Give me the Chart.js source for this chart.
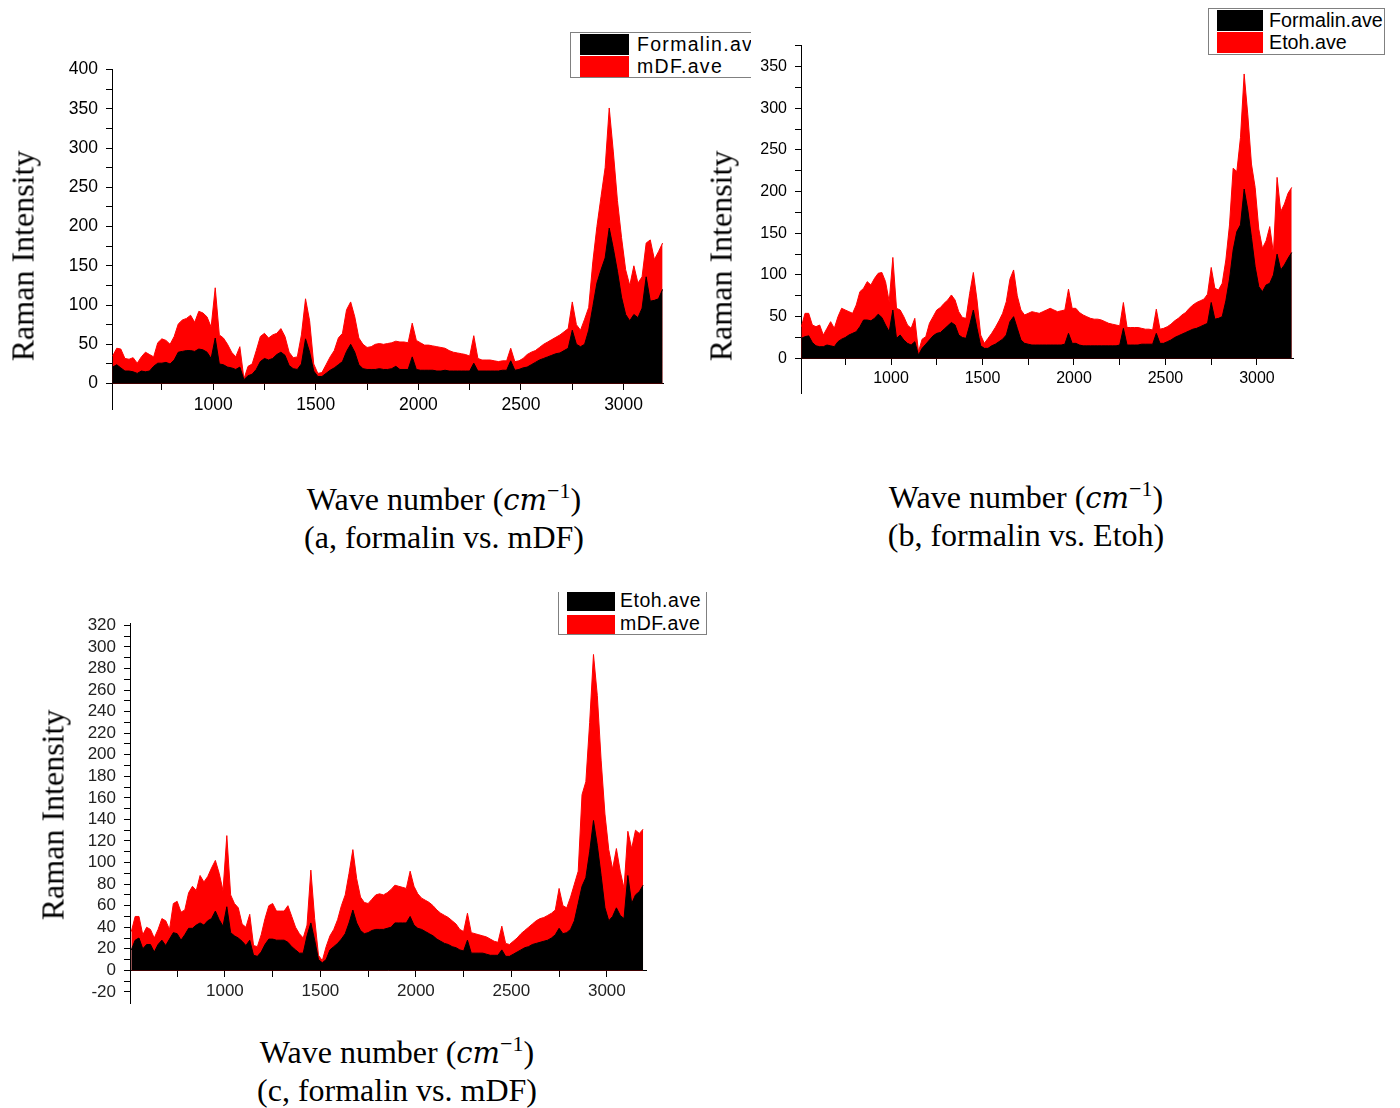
<!DOCTYPE html>
<html>
<head>
<meta charset="utf-8">
<script src="https://cdn.jsdelivr.net/npm/chart.js@4.4.1/dist/chart.umd.min.js"></script>
<style>
	body { margin: 0; background: #fff; }
	#page { position: relative; width: 1400px; height: 1108px; overflow: hidden; }
	canvas { position: absolute; }
	.ylab {
		position: absolute; white-space: nowrap;
		font: 32px 'Liberation Serif', 'Times New Roman', serif;
		transform: translate(-50%, -50%) rotate(-90deg);
	}
	.cap {
		position: absolute; white-space: nowrap; text-align: center;
		font: 32px 'Liberation Serif', 'Times New Roman', serif;
		line-height: 37px;
		transform: translate(-50%, -50%);
	}
	.cap i { font-family: 'DejaVu Serif', serif; font-size: 29px; }
	.cap sup { font-size: 22px; vertical-align: 12px; line-height: 0; }
	.legclip { position: absolute; overflow: hidden; }
	.legend { position: absolute; border: 1px solid #808080; background: #fff; }
	.legrow { position: absolute; white-space: nowrap; font-family: 'Liberation Sans', Arial, sans-serif; }
	.legrow span { position: absolute; }
</style>
</head>
<body>
<div id="page">
	<canvas id="chartA" width="633" height="377" style="left:40px; top:51px"></canvas>
	<canvas id="chartB" width="574" height="383" style="left:729px; top:28px"></canvas>
	<canvas id="chartC" width="598" height="417" style="left:58px; top:605px"></canvas>

	<div class="ylab" style="left:23px; top:256px">Raman Intensity</div>
	<div class="ylab" style="left:721px; top:256px">Raman Intensity</div>
	<div class="ylab" style="left:53px; top:815px">Raman Intensity</div>

	<div class="cap" style="left:444px; top:518px">Wave number (<i>cm</i><sup>−1</sup>)<br>(a, formalin vs. mDF)</div>
	<div class="cap" style="left:1026px; top:516px">Wave number (<i>cm</i><sup>−1</sup>)<br>(b, formalin vs. Etoh)</div>
	<div class="cap" style="left:397px; top:1071px">Wave number (<i>cm</i><sup>−1</sup>)<br>(c, formalin vs. mDF)</div>

	<div id="legA" class="legclip" style="left:570px; top:32px; width:181px; height:46px"></div>
	<div id="legB" class="legclip" style="left:1208px; top:8px; width:177px; height:47px"></div>
	<div id="legC" class="legclip" style="left:558px; top:592px; width:149px; height:43px"></div>
</div>

<script>
// wave numbers (cm-1) shared by every spectrum
const wave = [
	510, 530, 550, 570, 590, 610, 630, 650, 670, 690,
	710, 730, 750, 770, 790, 810, 830, 850, 870, 890,
	910, 930, 950, 970, 990, 1010, 1030, 1050, 1070, 1090,
	1110, 1130, 1150, 1170, 1190, 1210, 1230, 1250, 1270, 1290,
	1310, 1330, 1350, 1370, 1390, 1410, 1430, 1450, 1470, 1490,
	1510, 1530, 1550, 1570, 1590, 1610, 1630, 1650, 1670, 1690,
	1710, 1730, 1750, 1770, 1790, 1810, 1830, 1850, 1870, 1890,
	1910, 1930, 1950, 1970, 1990, 2010, 2030, 2050, 2070, 2090,
	2110, 2130, 2150, 2170, 2190, 2210, 2230, 2250, 2270, 2290,
	2310, 2330, 2350, 2370, 2390, 2410, 2430, 2450, 2470, 2490,
	2510, 2530, 2550, 2570, 2590, 2610, 2630, 2650, 2670, 2690,
	2710, 2730, 2750, 2770, 2790, 2810, 2830, 2850, 2870, 2890,
	2910, 2930, 2950, 2970, 2990, 3010, 3030, 3050, 3070, 3090,
	3110, 3130, 3150, 3170, 3190
];

// (a) formalin vs. mDF
const aFormalin = [
	21, 24, 20, 16, 16, 15, 13, 16, 15, 16,
	22, 26, 26, 27, 25, 30, 40, 41, 42, 42,
	41, 44, 43, 40, 32, 58, 25, 24, 21, 20,
	18, 21, 5, 10, 12, 18, 28, 32, 30, 32,
	37, 40, 36, 23, 19, 18, 25, 57, 40, 16,
	9, 9, 13, 17, 20, 24, 28, 41, 50, 40,
	24, 19, 18, 18, 18, 19, 18, 18, 19, 22,
	18, 18, 18, 34, 18, 17, 17, 17, 17, 16,
	16, 17, 16, 16, 16, 16, 16, 16, 26, 16,
	16, 16, 16, 16, 16, 17, 17, 29, 17, 18,
	20, 21, 24, 27, 30, 32, 34, 36, 38, 39,
	42, 45, 68, 50, 47, 50, 68, 98, 128, 145,
	160, 198, 172, 143, 110, 88, 80, 88, 84, 96,
	136, 105, 106, 108, 120
];
const aMdf = [
	35, 45, 44, 32, 31, 33, 26, 34, 40, 37,
	34, 52, 57, 55, 50, 60, 76, 81, 83, 87,
	78, 92, 90, 85, 72, 122, 62, 58, 50, 40,
	34, 47, 6, 22, 25, 42, 60, 64, 58, 62,
	64, 70, 60, 40, 33, 34, 62, 108, 80, 25,
	13, 14, 24, 34, 42, 58, 64, 94, 104, 85,
	58, 50, 46, 47, 50, 51, 50, 51, 52, 54,
	53, 53, 52, 77, 55, 52, 49, 49, 48, 47,
	46, 45, 42, 40, 39, 38, 37, 35, 61, 32,
	30, 30, 30, 29, 28, 29, 29, 45, 28, 29,
	32, 37, 40, 42, 46, 50, 53, 56, 59, 62,
	66, 70, 104, 75, 68, 82, 97, 155, 200, 238,
	275, 351, 295, 233, 186, 145, 125, 150, 128, 136,
	179, 183, 158, 168, 179
];

// (b) formalin vs. Etoh
const bFormalin = [
	24, 26, 27, 19, 15, 14, 14, 16, 15, 14,
	20, 23, 25, 28, 30, 32, 38, 46, 46, 45,
	48, 53, 49, 40, 32, 58, 24, 28, 22, 18,
	16, 20, 4, 12, 17, 22, 27, 30, 31, 35,
	39, 43, 40, 28, 25, 24, 40, 58, 36, 15,
	12, 12, 15, 17, 20, 23, 28, 44, 50, 36,
	22, 18, 17, 16, 16, 16, 16, 16, 16, 16,
	16, 16, 17, 30, 18, 18, 16, 15, 15, 15,
	15, 15, 15, 15, 15, 15, 15, 16, 36, 16,
	16, 16, 16, 17, 17, 17, 17, 30, 18, 18,
	20, 22, 25, 27, 29, 31, 33, 35, 36, 38,
	40, 42, 67, 47, 48, 50, 69, 95, 130, 152,
	160, 203, 178, 145, 110, 86, 80, 88, 90, 100,
	125, 106, 112, 120, 127
];
const bEtoh = [
	38, 54, 54, 40, 38, 40, 28, 36, 44, 36,
	50, 60, 58, 56, 54, 64, 80, 84, 92, 88,
	96, 102, 103, 92, 68, 121, 60, 58, 50, 40,
	36, 48, 8, 23, 26, 42, 50, 58, 61, 66,
	70, 76, 70, 56, 49, 48, 78, 103, 70, 28,
	18, 24, 30, 37, 45, 54, 68, 95, 106, 75,
	58, 52, 54, 56, 55, 54, 56, 58, 60, 58,
	56, 57, 58, 83, 60, 60, 55, 52, 50, 48,
	47, 47, 46, 44, 42, 41, 40, 39, 67, 37,
	37, 37, 37, 36, 35, 35, 34, 59, 35, 36,
	38, 41, 45, 48, 52, 55, 60, 64, 67, 69,
	71, 77, 109, 84, 82, 90, 118, 160, 228, 224,
	265, 341, 292, 233, 205, 155, 132, 141, 158, 126,
	217, 176, 185, 198, 205
];

// (c) Etoh vs. mDF
const cEtoh = [
	19, 28, 30, 20, 24, 24, 17, 24, 28, 23,
	29, 35, 34, 28, 33, 39, 39, 42, 44, 42,
	46, 48, 55, 47, 41, 59, 35, 32, 30, 27,
	23, 28, 14, 13, 17, 24, 29, 29, 28, 28,
	28, 26, 22, 19, 16, 16, 32, 44, 28, 10,
	7, 10, 19, 22, 25, 29, 34, 44, 56, 44,
	37, 34, 35, 37, 38, 38, 38, 39, 40, 44,
	44, 44, 44, 50, 42, 39, 38, 36, 34, 32,
	29, 27, 25, 24, 22, 21, 19, 18, 28, 16,
	16, 16, 16, 15, 14, 14, 14, 19, 13, 13,
	15, 17, 19, 21, 22, 24, 25, 26, 27, 28,
	30, 33, 39, 34, 35, 38, 46, 62, 78, 86,
	110, 139, 116, 88, 58, 46, 50, 58, 51, 48,
	88, 62, 70, 73, 79
];
const cMdf = [
	36, 50, 50, 33, 40, 38, 30, 38, 48, 46,
	38, 62, 64, 54, 56, 72, 78, 74, 88, 82,
	87, 95, 102, 90, 74, 125, 70, 62, 58, 43,
	40, 52, 23, 22, 33, 48, 60, 62, 55, 55,
	55, 60, 50, 40, 34, 30, 42, 93, 48, 14,
	9, 22, 32, 38, 47, 60, 70, 90, 112, 85,
	68, 63, 62, 66, 70, 71, 70, 72, 75, 79,
	78, 77, 76, 92, 78, 71, 67, 65, 63, 60,
	56, 53, 51, 49, 46, 43, 38, 36, 53, 35,
	34, 33, 32, 31, 29, 27, 26, 41, 25, 24,
	27, 30, 34, 37, 40, 43, 46, 48, 49, 51,
	53, 56, 76, 60, 58, 68, 80, 92, 163, 175,
	230, 293, 255, 195, 145, 112, 94, 113, 92, 76,
	129, 113, 130, 127, 131
];

// axis tick positions (labels only on the major ones)
const xTicks = [750, 1000, 1250, 1500, 1750, 2000, 2250, 2500, 2750, 3000];
const yTicksAB = [0, 25, 50, 75, 100, 125, 150, 175, 200, 225, 250, 275, 300, 325, 350, 375, 400];
const yTicksC = [-20, -10, 0, 10, 20, 30, 40, 50, 60, 70, 80, 90, 100, 110, 120, 130, 140, 150, 160,
	170, 180, 190, 200, 210, 220, 230, 240, 250, 260, 270, 280, 290, 300, 310, 320];

const BLACK = '#000000';
const RED = '#ff0000';

// pair wave numbers with intensities for a linear x axis
function toPoints(vals) {
	return vals.map((v, i) => ({ x: wave[i], y: v }));
}

function spectrum(label, vals, color) {
	return {
		label: label,
		data: toPoints(vals),
		borderColor: color,
		backgroundColor: color,
		borderWidth: 1,
		fill: 'origin',
		pointRadius: 0,
		tension: 0
	};
}

// one panel: black series in front of the red one
function makePanel(id, front, back, opt) {
	const ctx = document.getElementById(id);
	return new Chart(ctx, {
		type: 'line',
		data: { datasets: [front, back] },
		options: {
			responsive: false,
			animation: false,
			layout: { padding: { top: 10, right: 10, bottom: 10, left: 0 } },
			plugins: { legend: { display: false }, tooltip: { enabled: false } },
			scales: {
				x: {
					type: 'linear',
					position: { y: 0 },
					min: opt.xMin,
					max: opt.xMax,
					grid: { drawOnChartArea: false, tickLength: 6, color: '#000' },
					border: { color: '#000', width: 1 },
					afterBuildTicks: s => { s.ticks = xTicks.map(v => ({ value: v })); },
					ticks: {
						autoSkip: false, maxRotation: 0, padding: 5,
						color: opt.tickColor,
						font: { family: 'Liberation Sans', size: opt.xFont },
						callback: v => (v % 500 === 0 ? v : '')
					}
				},
				y: {
					min: opt.yMin,
					max: opt.yMax,
					afterFit: s => { s.width = 72; },
					afterBuildTicks: s => { s.ticks = opt.yTicks.filter(v => v <= opt.yMax).map(v => ({ value: v })); },
					grid: { drawOnChartArea: false, tickLength: 6, color: '#000' },
					border: { color: '#000', width: 1 },
					ticks: {
						autoSkip: false, padding: 8,
						color: opt.tickColor,
						font: { family: 'Liberation Sans', size: opt.yFont },
						callback: v => (v % opt.yLabelStep === 0 ? v : '')
					}
				}
			}
		}
	});
}

// legend boxes built from the dataset labels and colours
function makeLegend(chart, el, box) {
	const leg = document.createElement('div');
	leg.className = 'legend';
	leg.style.left = box.left + 'px';
	leg.style.top = box.top + 'px';
	leg.style.width = box.width + 'px';
	leg.style.height = box.height + 'px';
	chart.data.datasets.forEach((ds, i) => {
		const row = document.createElement('div');
		row.className = 'legrow';
		row.style.left = box.swLeft + 'px';
		row.style.top = (box.rowTop + i * box.rowH) + 'px';
		row.style.fontSize = box.font + 'px';
		row.style.letterSpacing = (box.spacing || 0) + 'px';
		const sw = document.createElement('div');
		sw.style.cssText = 'position:absolute;left:0;top:0;width:' + box.swW + 'px;height:' + box.swH + 'px;background:' + ds.backgroundColor;
		const tx = document.createElement('span');
		tx.textContent = ds.label;
		tx.style.left = box.textLeft + 'px';
		tx.style.top = box.textTop + 'px';
		row.appendChild(sw);
		row.appendChild(tx);
		leg.appendChild(row);
	});
	el.appendChild(leg);
}

const chartA = makePanel('chartA',
	spectrum('Formalin.ave', aFormalin, BLACK),
	spectrum('mDF.ave', aMdf, RED),
	{ xMin: 507, xMax: 3192, yMin: -33, yMax: 400, yTicks: yTicksAB, yLabelStep: 50, xFont: 17.5, yFont: 17.5, tickColor: '#000' });

const chartB = makePanel('chartB',
	spectrum('Formalin.ave', bFormalin, BLACK),
	spectrum('Etoh.ave', bEtoh, RED),
	{ xMin: 508, xMax: 3197, yMin: -42, yMax: 375, yTicks: yTicksAB, yLabelStep: 50, xFont: 16, yFont: 16, tickColor: '#000' });

const chartC = makePanel('chartC',
	spectrum('Etoh.ave', cEtoh, BLACK),
	spectrum('mDF.ave', cMdf, RED),
	{ xMin: 503, xMax: 3205, yMin: -31, yMax: 322, yTicks: yTicksC, yLabelStep: 20, xFont: 17, yFont: 17, tickColor: '#222' });

makeLegend(chartA, document.getElementById('legA'),
	{ left: 0, top: 0, width: 220, height: 44, swLeft: 9, rowTop: 1, rowH: 22, swW: 49, swH: 21, textLeft: 57, textTop: -1, font: 19.5, spacing: 1.3 });
makeLegend(chartB, document.getElementById('legB'),
	{ left: 0, top: 0, width: 175, height: 45, swLeft: 8, rowTop: 1, rowH: 22, swW: 46, swH: 21, textLeft: 52, textTop: -1, font: 19.7 });
makeLegend(chartC, document.getElementById('legC'),
	{ left: 0, top: -5, width: 147, height: 46, swLeft: 8, rowTop: 4, rowH: 23, swW: 48, swH: 19, textLeft: 53, textTop: -3, font: 19.5, spacing: 0.5 });
</script>
</body>
</html>
